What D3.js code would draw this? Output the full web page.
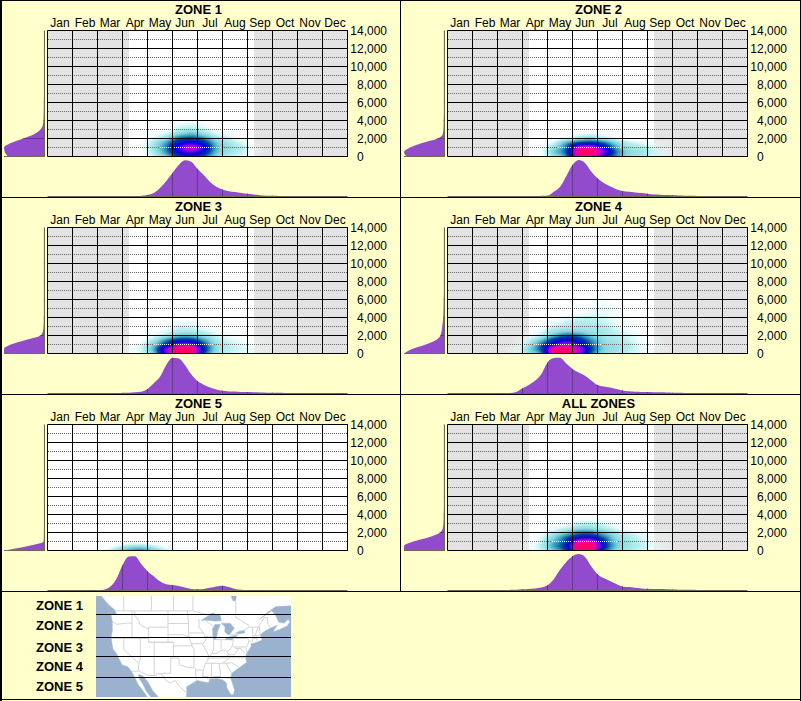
<!DOCTYPE html>
<html><head><meta charset="utf-8">
<script src="https://cdn.jsdelivr.net/npm/d3@7"></script>
<style>html,body{margin:0;padding:0;background:#ffffcc;overflow:hidden}svg{display:block}text{font-family:"Liberation Sans",Arial,sans-serif;fill:#000}</style>
</head><body>
<svg id="chart" width="801" height="701"></svg>
<script>
const months = ["Jan","Feb","Mar","Apr","May","Jun","Jul","Aug","Sep","Oct","Nov","Dec"];
const elevTicks = [0,2000,4000,6000,8000,10000,12000,14000];
const zoneNames = ["ZONE 1","ZONE 2","ZONE 3","ZONE 4","ZONE 5","ALL ZONES"];
const legendNames = ["ZONE 1","ZONE 2","ZONE 3","ZONE 4","ZONE 5"];

// Active season, in months from 1 Jan (null = none shaded)
const activeStart = [3.26,3.26,3.26,3.26,null,3.26];
const activeEnd   = [8.26,8.26,8.26,8.26,null,8.26];

// Density by half-month column (rows: elevation 0, 500, 1000 ...), relative to each zone's peak
const heatZone1 = {firstCol:6, rows:[
 [0,.01,.08,.22,.42,.48,.38,.18,.10,.06,.01],
 [0,.02,.12,.30,.55,.65,.50,.24,.14,.09,.03],
 [0,.02,.14,.33,.62,.80,.58,.26,.16,.10,.03],
 [0,.02,.12,.28,.50,.58,.46,.22,.13,.07,.01],
 [0,.01,.07,.17,.36,.40,.32,.15,.09,.03,0],
 [0,0,.03,.08,.18,.24,.16,.07,.04,.01,0],
 [0,0,.01,.03,.09,.12,.08,.03,.01,0,0],
 [0,0,0,.01,.05,.07,.04,.01,0,0,0],
 [0,0,0,0,.01,.03,.01,0,0,0,0]]};
const heatZone2 = {firstCol:6, rows:[
 [0,.03,.14,.32,.88,.92,.55,.30,.16,.12,.06,.02],
 [0,.04,.20,.40,.95,1,.70,.34,.18,.14,.08,.03],
 [0,.03,.15,.36,.80,.85,.55,.28,.14,.11,.06,.02],
 [0,.01,.08,.26,.42,.46,.36,.18,.10,.06,.03,.01],
 [0,0,.02,.07,.16,.20,.13,.06,.03,.01,0,0],
 [0,0,0,.01,.04,.06,.03,.01,0,0,0,0]]};
const heatZone3 = {firstCol:6, rows:[
 [.02,.06,.22,.66,1,.95,.42,.15,.08,.05,.03,.01],
 [.03,.08,.26,.70,1,.98,.48,.18,.10,.07,.04,.01],
 [.02,.06,.20,.45,.72,.70,.40,.16,.09,.06,.03,.01],
 [.01,.03,.12,.30,.44,.44,.28,.12,.07,.04,.02,.01],
 [0,.01,.05,.12,.22,.22,.15,.08,.04,.02,.01,0],
 [0,0,.02,.06,.11,.11,.08,.04,.02,.01,0,0],
 [0,0,.01,.03,.07,.07,.04,.02,.01,0,0,0],
 [0,0,0,.01,.03,.03,.01,0,0,0,0,0]]};
const heatZone4 = {firstCol:5, rows:[
 [.03,.14,.32,.90,1,.72,.36,.16,.12,.08,.05,.02,0],
 [.04,.18,.40,.92,1,.78,.42,.20,.15,.10,.06,.03,.01],
 [.02,.12,.34,.60,.78,.60,.36,.18,.14,.10,.05,.03,0],
 [.01,.08,.22,.44,.54,.46,.30,.16,.12,.08,.04,.02,0],
 [0,.03,.10,.24,.36,.32,.20,.13,.10,.07,.03,.01,0],
 [0,.01,.06,.13,.18,.17,.14,.12,.08,.05,.02,0,0],
 [0,0,.03,.08,.11,.12,.12,.10,.06,.03,.01,0,0],
 [0,0,.01,.04,.08,.10,.10,.08,.05,.03,0,0,0],
 [0,0,0,.02,.05,.07,.08,.07,.04,.02,0,0,0],
 [0,0,0,0,.01,.03,.05,.05,.03,.01,0,0,0],
 [0,0,0,0,0,.01,.04,.05,.03,.01,0,0,0],
 [0,0,0,0,0,0,.02,.04,.02,0,0,0,0],
 [0,0,0,0,0,0,.02,.03,.01,0,0,0,0],
 [0,0,0,0,0,0,.01,.02,0,0,0,0,0],
 [0,0,0,0,0,0,.01,.01,0,0,0,0,0]]};
const heatZone5 = {firstCol:4, rows:[
 [.02,.14,.26,.30,.20,.08,.04,.02,0,.01,.04,.01],
 [0,.05,.12,.14,.08,.03,.01,0,0,0,.015,0],
 [0,0,.01,.01,.01,0,0,0,0,0,0,0]]};
const heatAll = {firstCol:6, rows:[
 [.02,.08,.22,.42,.95,.92,.42,.18,.11,.07,.04,.01],
 [.03,.10,.28,.48,1,1,.50,.22,.14,.09,.05,.02],
 [.02,.08,.24,.42,.85,.85,.45,.20,.13,.08,.04,.01],
 [.01,.06,.18,.34,.48,.50,.34,.17,.11,.07,.03,.01],
 [.01,.03,.10,.20,.32,.32,.22,.12,.08,.04,.02,.01],
 [0,.01,.04,.09,.15,.15,.11,.06,.03,.01,0,0],
 [0,0,.01,.04,.08,.09,.06,.02,.01,0,0,0],
 [0,0,0,.01,.03,.03,.02,0,0,0,0,0]]};
const heatGrids = [heatZone1,heatZone2,heatZone3,heatZone4,heatZone5,heatAll];

const heatStops  = [0,.04,.1,.2,.3,.4,.55,.7,.85,1];
const heatColors = ["#ffffff","#e4fbfb","#b4eef0","#7ed2da","#2f94bc","#003c98","#0000e4","#8a00e6","#ea00b4","#ff0068"];

// Seasonal profile: % of peak by quarter-month step, starting at step "first"
const seasonZone1 = {first:15, values:[1,3,8,22,42,64,86,99,95,75,58,39,26,18,13,11,8,6,4,2,1,.5,0]};
const seasonZone2 = {first:15, values:[.5,1,12,25,55,86,100,92,68,49,36,27,19,14,12,10,8,6,4,3.5,2.5,2,1.5,1,.5,.2]};
const seasonZone3 = {first:12, values:[.5,1,2,3.5,11,27,45,78,98,96,78,52,33,23,15,10,6,4.5,4,3,2.5,2,1.5,1,.8,.5,.3,0]};
const seasonZone4 = {first:10, values:[0,3,13,22,34,52,85,97,98,82,67,57,48,35,22,18,15,11,7,5,3.5,3,2.5,2,2,1.5,1,.5,0]};
const seasonZone5 = {first:8,  values:[0,1,9,30,69,93,94,72,52,38,24,16,14,11,7,3,2,3,6,10,12,8,3,1,.3,0]};
const seasonAll   = {first:10, values:[.5,1,2,3,4.5,7,13,30,56,78,94,100,92,66,44,33,25,17,10,8,6,4.5,3.7,3,2.5,2,1.5,1,.7,.4,.2]};
const seasonProfiles = [seasonZone1,seasonZone2,seasonZone3,seasonZone4,seasonZone5,seasonAll];

// Elevation profile: % of peak by 500 ft step from 0 upwards (the tail stays at the last value)
const elevZone1 = [90,98,100,83,52,24,9,3,1.5,1,.8,.5,.5,.3,.2];
const elevZone2 = [93,100,85,55,16,3,1.5,1,.8,.5,.3];
const elevZone3 = [100,100,83,46,9,2.5,1.2,.8,.5,.3];
const elevZone4 = [100,80,46,20,9,6,4.5,3,2,1.5,1.2,1,.8,.5,.3];
const elevZone5 = [100,40,1,.5,.2];
const elevAll   = [100,100,77,36,10,3,1.5,1,.8,.5,.3];
const elevProfiles = [elevZone1,elevZone2,elevZone3,elevZone4,elevZone5,elevAll];

// Key map, in degrees [lon, lat]
const zoneLats = [48.3,42.3,37,31];
const pacific = [[-131,54],[-128,52.3],[-125.5,50.5],[-123.2,49.2],[-122.6,48.2],[-123.6,48.1],[-124.7,48.4],[-124.1,46.5],[-124.1,44],[-124.5,42.5],[-124.2,40.5],[-123.8,39],[-122.5,37.8],[-121.8,36.5],[-120.6,34.6],[-118.5,34],[-117.2,32.6],[-116,30.8],[-114.8,28.5],[-113,26.5],[-111.5,24.5],[-109.8,23],[-109,21],[-135,21],[-135,54]];
const gulfCalifornia = [[-114.7,31.7],[-113,31.2],[-111,29],[-109.5,26.5],[-108,25],[-106.5,23.5],[-105.5,21],[-109,21],[-109.8,23],[-110.3,24.5],[-112,26.5],[-113,28.5],[-114.5,30.5]];
const atlantic = [[-71,46.9],[-68,48.7],[-65,50],[-60,50.2],[-50,50],[-50,20],[-97.5,20],[-97.8,22.5],[-97.2,26],[-97.3,27.8],[-95,29],[-93.5,29.8],[-91,29.3],[-89.3,29.1],[-89,30.3],[-86,30.4],[-84.2,30],[-82.8,29],[-82.7,27.5],[-81.8,26],[-81,25.1],[-80.3,25.4],[-80,26.8],[-80.6,28.5],[-81.4,30.5],[-81,32],[-79,33.3],[-77.8,34],[-75.6,35.3],[-76,37],[-75.5,38],[-74,39.8],[-74,40.6],[-72,41],[-70,41.6],[-70.7,43],[-69,44],[-67,44.8],[-64.5,45.5],[-66,43.8],[-64,44.3],[-61,45.3],[-60,46.2],[-60.5,47],[-62,46],[-64,46.2],[-65,47.8],[-66.5,49]];
const waterBodies = [
 [[-92,46.7],[-88,48.5],[-85,47.9],[-84.7,46.6],[-87,46.5],[-90,46.7]],
 [[-87.6,41.7],[-86.5,42],[-86,44],[-85,45.7],[-87,45.7],[-88,44.5],[-87.8,43]],
 [[-84.7,46],[-81.5,46],[-80,44.7],[-81.7,43.1],[-82.5,43.1],[-83.5,43.8],[-83.4,45]],
 [[-83.4,41.7],[-81,41.6],[-79,42.7],[-79,42.9],[-81,42.7],[-83,42.1]],
 [[-79.7,43.4],[-78,43.3],[-76.3,43.5],[-76.3,44.1],[-78,44]],
 [[-82,53.5],[-79,53.5],[-79.5,51.4],[-80.5,51.3]]];
const borders = [
 [[-123,49],[-95,49],[-89.5,48]],[[-82.5,45.3],[-82.5,43],[-79,43],[-76.5,44.2],[-74.7,45],[-71.5,45],[-70.3,46.2],[-69.2,47.4],[-68,47.3],[-67.8,45.7],[-67,44.9]],
 [[-120,49],[-120,55]],[[-110,49],[-110,55]],[[-102,49],[-102,55]],[[-95,49],[-95,55]],[[-74.5,45.3],[-79.5,47.5],[-79.5,51.4]],
 [[-117.1,32.5],[-114.7,32.7],[-111,31.3],[-108.2,31.3],[-108.2,31.8],[-106.5,31.8],[-104.5,29.6],[-103,29],[-101.5,29.8],[-99.5,27.5],[-97.2,25.9]],
 [[-124,46.3],[-122.5,45.7],[-119,46],[-117,46]],[[-117,49],[-117,42]],[[-124.2,42],[-111,42]],
 [[-116,49],[-116,47.9],[-114.5,46.5],[-114,45.5],[-111,44.5]],[[-111,45],[-104,45],[-104,41],[-111,41],[-111,45]],
 [[-104,49],[-104,45]],[[-104,45.9],[-96.6,45.9]],[[-104,43],[-98.5,43],[-96.5,42.5]],[[-104,41],[-102,41],[-102,40],[-95.3,40]],
 [[-114,42],[-114,36],[-114.6,35]],[[-111,41],[-109,41],[-109,31.3]],[[-109,41],[-102,41],[-102,37]],[[-114,37],[-94.6,37]],[[-94.6,39.1],[-94.6,33.6]],
 [[-103,37],[-103,32],[-106.6,32]],[[-103,36.5],[-100,36.5],[-100,34.6],[-97,33.8],[-94.5,33.6]],[[-94,33.6],[-94,31.5],[-93.7,30]],[[-94,33],[-91.2,33]],
 [[-120,42],[-120,39],[-114.6,35],[-114.7,32.7]],[[-97,49],[-96.6,45.9],[-96.5,42.5],[-95.3,40],[-94.6,39.1]],[[-96.5,43.5],[-91.2,43.5]],[[-95.7,40.6],[-91.5,40.6]],
 [[-92.8,47],[-92.8,45],[-91.2,43.5],[-90.2,41.8],[-91.5,40.4],[-90.2,38.7],[-89.2,37],[-89.6,36],[-90.5,35],[-91.2,33],[-91.5,31],[-89.7,31],[-89.6,30.2]],
 [[-90.6,42.5],[-87.8,42.5]],[[-87.5,41.7],[-87.5,39.3],[-88,37.8]],[[-89.2,37],[-88,37.8],[-86,38],[-85,38.7],[-84,38.8],[-82.6,38.4],[-81,39.5],[-80.6,40.6]],
 [[-84.8,41.7],[-84.8,39.1]],[[-87,41.75],[-83.4,41.7]],[[-90.4,46.6],[-87.8,45.3]],[[-80.5,42],[-80.5,40.6]],[[-79.7,42],[-75.3,42],[-74.7,41.4]],
 [[-80.5,39.7],[-75.8,39.7]],[[-75.4,39.8],[-74.7,41.4],[-74,41]],[[-73.4,45],[-73.3,42],[-73.6,41]],[[-73.5,42],[-71.8,42],[-71.8,41.3]],[[-73.3,42.7],[-71,42.8]],
 [[-71.5,45],[-72.5,42.7]],[[-71,45.3],[-70.7,43]],[[-83.7,36.6],[-75.9,36.6]],[[-90,36.5],[-83.7,36.6]],[[-90.2,35],[-84.3,35],[-81.7,36.6]],
 [[-84,35],[-83,35],[-81,35.2],[-78.5,33.9]],[[-83,35],[-81,32]],[[-88.2,35],[-88.4,30.3]],[[-85.6,35],[-85,32],[-85,31]],[[-87.6,31],[-85,31],[-84.8,30.7],[-82.2,30.5],[-81.5,30.7]],
 [[-82,37.5],[-80,37.5],[-78.5,39.2],[-77.7,39.3]],[[-82.6,38.4],[-82,37.5],[-83.7,36.6]],[[-79.5,39.7],[-79.5,39.2],[-77.7,39.3],[-77,38.5],[-76,38]],[[-75.8,39.7],[-75.7,38.4],[-75,38.4]]];

/* ---------- drawing ---------- */
const BG="#ffffcc", PURPLE="#914bcc", PURPLE_LINE="#5e3a86", OLIVE="#6b6b52";
const svg=d3.select("#chart");
svg.append("rect").attr("width",801).attr("height",701).attr("fill",BG);

const heatColor=d3.scaleLinear().domain(heatStops).range(heatColors).interpolate(d3.interpolateRgb).clamp(true);
const cub=(a,b,c,d,t)=>b+.5*t*(c-a+t*(2*a-5*b+4*c-d+t*(3*(b-c)+d-a)));
function sampler(grid){
  const g=(r,c)=>{const row=grid.rows[Math.max(0,r)]; if(!row) return 0; const v=row[c-grid.firstCol]; return v===undefined?0:v;};
  return (col,rowf)=>{
    const c0=Math.floor(col), r0=Math.floor(rowf), tc=col-c0, tr=rowf-r0, vals=[];
    for(let r=-1;r<=2;r++) vals.push(cub(g(r0+r,c0-1),g(r0+r,c0),g(r0+r,c0+1),g(r0+r,c0+2),tc));
    return Math.max(0,cub(vals[0],vals[1],vals[2],vals[3],tr));
  };
}

zoneNames.forEach((name,z)=>{
  const dx=(z%2)*400, dy=Math.floor(z/2)*197;
  const g=svg.append("g").attr("transform",`translate(${dx},${dy})`);
  const x=d3.scaleLinear().domain([0,12]).range([47.5,347.5]);
  const y=d3.scaleLinear().domain([0,14000]).range([156.5,30.5]);
  const [x0,x1]=x.range(), [yb,yt]=y.range();

  g.append("text").attr("x",198.5).attr("y",14).attr("text-anchor","middle").attr("font-size",13).attr("font-weight","bold").text(name);
  g.selectAll(".m").data(months).join("text").attr("x",(d,i)=>x(i+.5)).attr("y",27).attr("text-anchor","middle").attr("font-size",12).text(d=>d);

  g.append("rect").attr("x",x0).attr("y",yt).attr("width",x1-x0).attr("height",yb-yt).attr("fill","#fff");
  if(activeStart[z]!==null){
    [[0,activeStart[z]],[activeEnd[z],12]].forEach(([a,b])=>g.append("rect").attr("x",x(a)).attr("y",yt).attr("width",x(b)-x(a)).attr("height",yb-yt).attr("fill","#e3e3e3"));
  }

  // density surface
  const W=300,H=126,cv=document.createElement("canvas"); cv.width=W; cv.height=H;
  const ctx=cv.getContext("2d"), img=ctx.createImageData(W,H), sample=sampler(heatGrids[z]);
  const valueAt=(px,py)=>sample(x.invert(px)*2-.5,y.invert(py)/500);
  for(let j=0;j<H;j++)for(let i=0;i<W;i++){
    const v=valueAt(x0+i+.5,yt+j+.5); if(v<.004) continue;
    const c=d3.rgb(heatColor(v)),k=(j*W+i)*4;
    img.data[k]=c.r;img.data[k+1]=c.g;img.data[k+2]=c.b;img.data[k+3]=255*Math.min(1,v/.1+.1);
  }
  ctx.putImageData(img,0,0);
  g.append("image").attr("x",x0).attr("y",yt).attr("width",W).attr("height",H).attr("href",cv.toDataURL());

  // dotted half-grid lines: dark on light, white on the dark core
  let dark="",light="";
  d3.range(1000,14000,2000).forEach(e=>{
    const py=y(e);
    for(let px=x0+.5;px<x1;px+=2){
      const seg=`M${px},${py}h1`;
      if(valueAt(px,py)>.2) light+=seg; else dark+=seg;
    }
  });
  g.append("path").attr("d",dark).attr("stroke","#666").attr("fill","none").attr("shape-rendering","crispEdges");
  g.append("path").attr("d",light).attr("stroke","#fff").attr("fill","none").attr("shape-rendering","crispEdges");

  const gridColor="#000";
  elevTicks.forEach(e=>g.append("line").attr("x1",x0).attr("x2",x1+.5).attr("y1",y(e)).attr("y2",y(e)).attr("stroke",gridColor));
  d3.range(0,13).forEach(m=>g.append("line").attr("x1",x(m)).attr("x2",x(m)).attr("y1",yt).attr("y2",yb).attr("stroke",gridColor));

  // elevation axis
  const axis=g.append("g").attr("transform","translate(387,0)")
    .call(d3.axisRight(y).tickValues(elevTicks).tickSize(0).tickPadding(0).tickFormat(d3.format(",")));
  axis.select(".domain").remove();
  axis.selectAll("text").attr("text-anchor",d=>d===0?"start":"end").attr("x",d=>d===0?-30:0).attr("dy",null)
    .attr("y",4).attr("font-size",12).attr("font-family",null).style("font-family",'"Liberation Sans",Arial,sans-serif').style("font-size","12px");

  // season profile
  const sp=seasonProfiles[z];
  const sx=d3.scaleLinear().domain([0,48]).range([x0,x1]);
  const sy=d3.scaleLinear().domain([0,100]).range([196,160]);
  const sData=sp.values.map((v,i)=>[sp.first+i,v]);
  const clipS=`clipS${z}`;
  const sArea=d3.area().x(d=>sx(d[0])).y0(sy(0)).y1(d=>sy(d[1])).curve(d3.curveMonotoneX);
  g.append("path").attr("d",sArea(sData)).attr("fill",PURPLE);
  g.append("clipPath").attr("id",clipS).append("path").attr("d",sArea(sData));
  d3.range(1,12).forEach(m=>g.append("line").attr("x1",x(m)).attr("x2",x(m)).attr("y1",158).attr("y2",196).attr("stroke",PURPLE_LINE).attr("clip-path",`url(#${clipS})`));
  g.append("line").attr("x1",x0).attr("x2",x1).attr("y1",196.5).attr("y2",196.5).attr("stroke",OLIVE);

  // elevation profile
  const ep=elevProfiles[z];
  const eData=d3.range(0,29).map(i=>[i*500,i<ep.length?ep[i]:ep[ep.length-1]]);
  const lx=d3.scaleLinear().domain([0,100]).range([44,4]);
  const eArea=d3.area().y(d=>y(d[0])).x0(lx(0)).x1(d=>lx(d[1])).curve(d3.curveMonotoneY);
  g.append("path").attr("d",eArea(eData)).attr("fill",PURPLE);
  const clipE=`clipE${z}`;
  g.append("clipPath").attr("id",clipE).append("path").attr("d",eArea(eData));
  elevTicks.slice(1).forEach(e=>g.append("line").attr("x1",2).attr("x2",44).attr("y1",y(e)).attr("y2",y(e)).attr("stroke",PURPLE_LINE).attr("clip-path",`url(#${clipE})`));
  g.append("line").attr("x1",44.5).attr("x2",44.5).attr("y1",yt).attr("y2",yb+.5).attr("stroke",OLIVE);
  g.append("line").attr("x1",lx(100)).attr("x2",44.5).attr("y1",yb).attr("y2",yb).attr("stroke",OLIVE);
});

// key map
const proj=d3.geoMercator().scale(158.5).translate([455.7,766.8]);
const mapBox={x:96,y:596,w:195,h:101};
svg.append("clipPath").attr("id","mapClip").append("rect").attr("x",mapBox.x).attr("y",mapBox.y).attr("width",mapBox.w).attr("height",mapBox.h);
const map=svg.append("g").attr("clip-path","url(#mapClip)");
map.append("rect").attr("x",mapBox.x).attr("y",mapBox.y).attr("width",mapBox.w).attr("height",mapBox.h).attr("fill","#fff");
const geoLine=d3.line().x(d=>proj(d)[0]).y(d=>proj(d)[1]);
map.selectAll(".b").data(borders).join("path").attr("d",geoLine).attr("fill","none").attr("stroke","#d4d4d4").attr("stroke-width",1);
map.selectAll(".w").data([pacific,gulfCalifornia,atlantic,...waterBodies]).join("path").attr("d",d=>geoLine(d)+"Z").attr("fill","#9ab2cd").attr("stroke","#b5c6da").attr("stroke-width",.5);
zoneLats.forEach(lat=>{
  const py=Math.round(proj([-100,lat])[1])+.5;
  svg.append("line").attr("x1",mapBox.x).attr("x2",mapBox.x+mapBox.w).attr("y1",py).attr("y2",py).attr("stroke","#000");
});
const legendY=[610,630,652,671,691];
svg.selectAll(".lg").data(legendNames).join("text").attr("x",83).attr("y",(d,i)=>legendY[i]).attr("text-anchor","end").attr("font-size",13).attr("font-weight","bold").text(d=>d);

// panel frame
const frame=svg.append("g").attr("stroke","#000").attr("fill","none");
[[0.5,0,0.5,701],[1.5,0,1.5,701],[800.5,0,800.5,701],[0,0.5,801,0.5],[0,699.5,801,699.5],[0,197.5,801,197.5],[0,394.5,801,394.5],[0,591.5,801,591.5],[400.5,0,400.5,591]]
 .forEach(([a,b,c,d])=>frame.append("line").attr("x1",a).attr("y1",b).attr("x2",c).attr("y2",d));
</script>
</body></html>
